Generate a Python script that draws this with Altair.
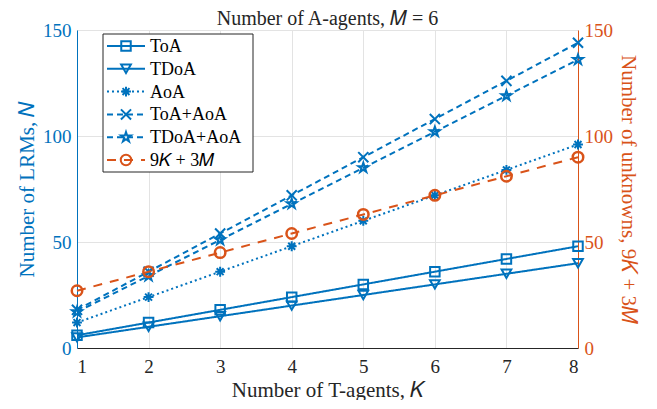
import altair as alt
import pandas as pd

K = [1, 2, 3, 4, 5, 6, 7, 8]
series_names = ["ToA", "TDoA", "AoA", "ToA+AoA", "TDoA+AoA", "9𝐾 + 3𝑀"]
toa = [6, 12, 18, 24, 30, 36, 42, 48]
tdoa = [5, 10, 15, 20, 25, 30, 35, 40]
aoa = [12, 24, 36, 48, 60, 72, 84, 96]
toa_aoa = [18, 36, 54, 72, 90, 108, 126, 144]
tdoa_aoa = [17, 34, 51, 68, 85, 102, 119, 136]
unknowns = [27, 36, 45, 54, 63, 72, 81, 90]
left_ticks = [0, 50, 100, 150]
right_ticks = [0, 50, 100, 150]
chart_title = "Number of A-agents, 𝑀 = 6"

BLUE = "#0072BD"
ORANGE = "#D95319"
FONT = "Liberation Serif"
FS_LABEL = 19
FS_TITLE = 21
FS_MAIN = 20
FS_LEGEND = 18
W, H = 501, 318

rows = []
for name, vals in zip(series_names, [toa, tdoa, aoa, toa_aoa, tdoa_aoa, unknowns]):
    for k, v in zip(K, vals):
        rows.append({"K": k, "N": v, "series": name})
df = pd.DataFrame(rows)
blue_df = df[df.series != series_names[5]]
orange_df = df[df.series == series_names[5]]

ASTER = "M-1,0L1,0M0,-1L0,1M-0.7,-0.7L0.7,0.7M-0.7,0.7L0.7,-0.7"
XMARK = "M-1,-1L1,1M-1,1L1,-1"
STAR = ("M0,-1L0.2245,-0.309L0.9511,-0.309L0.3633,0.118L0.5878,0.809"
        "L0,0.382L-0.5878,0.809L-0.3633,0.118L-0.9511,-0.309L-0.2245,-0.309Z")

color_scale = alt.Scale(domain=series_names, range=[BLUE] * 5 + [ORANGE])
dash_scale = alt.Scale(domain=series_names,
                       range=[[1, 0], [1, 0], [2, 3], [6, 4], [6, 4], [9, 8]])
shape_scale = alt.Scale(domain=series_names,
                        range=["square", "triangle-down", ASTER, XMARK, STAR, "circle"])
size_scale = alt.Scale(domain=series_names, range=[90, 110, 70, 90, 160, 150])

xs = alt.X("K:Q", scale=alt.Scale(domain=[1, 8], nice=False),
           axis=alt.Axis(title="Number of T-agents, 𝐾", values=K, format="d",
                         grid=True, gridColor="#e3e3e3", domainColor="#262626",
                         labelColor="#262626", titleColor="#262626",
                         labelFont=FONT, titleFont=FONT,
                         ticks=False, labelPadding=9, labelFontSize=FS_LABEL,
                         titleFontSize=FS_TITLE, titlePadding=3, titleFontWeight="normal"))

def yleft(axis):
    return alt.Y("N:Q", scale=alt.Scale(domain=[0, 150], nice=False), axis=axis)

left_axis = alt.Axis(title="Number of LRMs, 𝑁", values=left_ticks, grid=True,
                     gridColor="#e3e3e3", domainColor=BLUE, labelColor=BLUE,
                     titleColor=BLUE, ticks=False, labelFontSize=FS_LABEL,
                     labelFont=FONT, titleFont=FONT,
                     titleFontSize=FS_TITLE, titleFontWeight="normal", labelPadding=6,
                     titlePadding=5)
right_axis = alt.Axis(title="Number of unknowns, 9𝐾 + 3𝑀", orient="right",
                      values=right_ticks, grid=False, domainColor=ORANGE,
                      labelColor=ORANGE, titleColor=ORANGE, ticks=False,
                      labelFont=FONT, titleFont=FONT,
                      labelFontSize=FS_LABEL, titleFontSize=FS_TITLE,
                      titleFontWeight="normal", labelPadding=6, titlePadding=5)

enc_common = dict(
    color=alt.Color("series:N", scale=color_scale, legend=None),
    strokeDash=alt.StrokeDash("series:N", scale=dash_scale, legend=None),
)

blue_lines = alt.Chart(blue_df).mark_line(strokeWidth=2).encode(
    x=xs, y=yleft(left_axis), detail="series:N", **enc_common)
blue_pts = alt.Chart(blue_df).mark_point(strokeWidth=2, filled=False, opacity=1).encode(
    x="K:Q", y=yleft(None),
    color=alt.Color("series:N", scale=color_scale, legend=None),
    shape=alt.Shape("series:N", scale=shape_scale, legend=None),
    size=alt.Size("series:N", scale=size_scale, legend=None))
orange_lines = alt.Chart(orange_df).mark_line(strokeWidth=2).encode(
    x="K:Q", y=alt.Y("N:Q", scale=alt.Scale(domain=[0, 150], nice=False), axis=right_axis),
    **enc_common)
orange_pts = alt.Chart(orange_df).mark_point(strokeWidth=2.5, filled=False, opacity=1).encode(
    x="K:Q", y=alt.Y("N:Q", scale=alt.Scale(domain=[0, 150], nice=False), axis=None),
    color=alt.Color("series:N", scale=color_scale, legend=None),
    shape=alt.Shape("series:N", scale=shape_scale, legend=None),
    size=alt.Size("series:N", scale=size_scale, legend=None))

# legend box
leg_df = pd.DataFrame({"series": series_names, "idx": list(range(6))})
leg_y = alt.Y("idx:Q", scale=alt.Scale(domain=[0, 5], range=[16, 130]), axis=None)
box = alt.Chart(pd.DataFrame({"a": [0]})).mark_rect(
    fill="white", stroke="#262626", strokeWidth=1).encode(
    x=alt.value(26), x2=alt.value(176), y=alt.value(4), y2=alt.value(142))
leg_lines = alt.Chart(leg_df).mark_rule(strokeWidth=2).encode(
    x=alt.value(30), x2=alt.value(68), y=leg_y, **enc_common)
leg_pts = alt.Chart(leg_df).mark_point(strokeWidth=2, filled=False, opacity=1).encode(
    x=alt.value(49), y=leg_y,
    color=alt.Color("series:N", scale=color_scale, legend=None),
    shape=alt.Shape("series:N", scale=shape_scale, legend=None),
    size=alt.Size("series:N", scale=size_scale, legend=None))
leg_text = alt.Chart(leg_df).mark_text(align="left", baseline="middle", fontSize=FS_LEGEND,
                                       font=FONT, color="black", dy=1).encode(
    x=alt.value(73), y=leg_y, text="series:N")

title_txt = alt.Chart(pd.DataFrame({"t": [chart_title]})).mark_text(
    align="center", baseline="top", fontSize=FS_MAIN, font=FONT,
    color="#262626").encode(x=alt.value(W / 2), y=alt.value(-21.5), text="t:N")

chart = alt.layer(blue_lines, blue_pts, orange_lines, orange_pts,
                  box, leg_lines, leg_pts, leg_text, title_txt).resolve_scale(
    y="independent").properties(
    width=W, height=H,
    autosize=alt.AutoSizeParams(type="none"),
    padding={"left": 69, "top": 22, "right": 64, "bottom": 52},
).configure_view(stroke="#262626", strokeWidth=1).configure(
    font=FONT).configure_axis(labelFont=FONT, titleFont=FONT)

chart.save("out.html", embed_options={"renderer": "svg", "actions": False})
